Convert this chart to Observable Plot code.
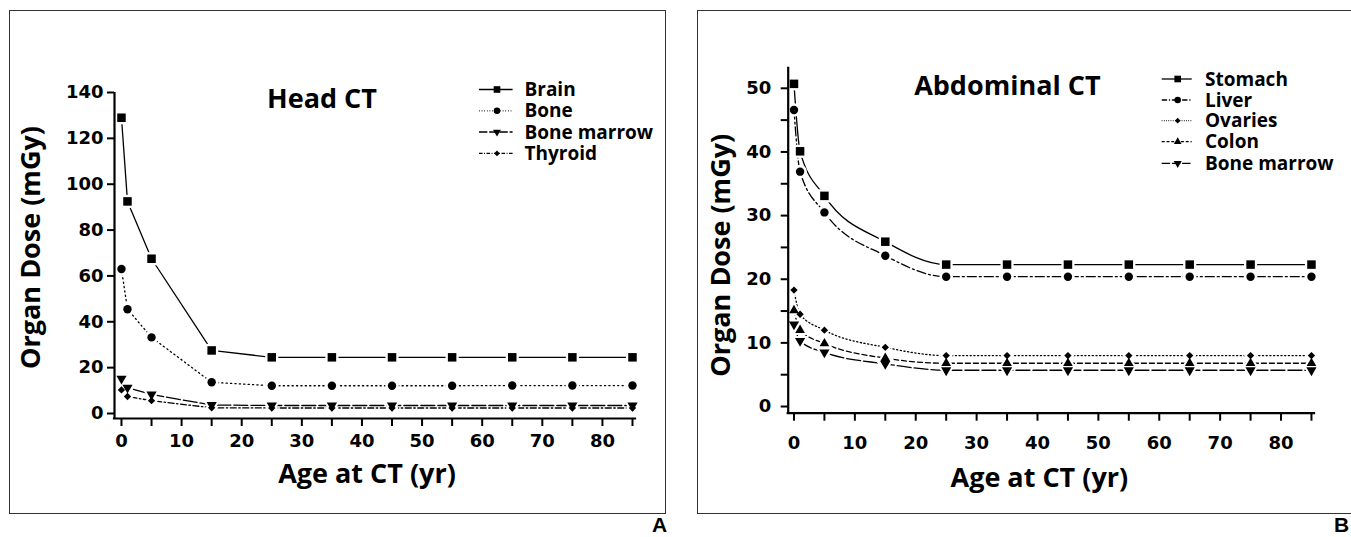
<!DOCTYPE html>
<html><head><meta charset="utf-8">
<script src="https://cdn.jsdelivr.net/npm/d3@7"></script>
<script src="https://cdn.jsdelivr.net/npm/@observablehq/plot@0.6"></script>
<style>
html,body{margin:0;padding:0;background:#fff;}
#root{position:relative;width:1351px;height:537px;overflow:hidden;background:#fff;}
.frame{position:absolute;border:1.5px solid #333;box-sizing:border-box;}
.abs{position:absolute;top:0;}
</style></head><body><div id="root"></div>
<script>
// ---------- data ----------
const ages = [0, 1, 5, 15, 25, 35, 45, 55, 65, 75, 85];

const headSeries = ["Brain", "Bone", "Bone marrow", "Thyroid"];
const headBrain      = [129, 92.5, 67.5, 27.5, 24.5, 24.5, 24.5, 24.5, 24.5, 24.5, 24.5];
const headBone       = [63, 45.5, 33.2, 13.6, 12.1, 12.1, 12.1, 12.1, 12.2, 12.2, 12.2];
const headBoneMarrow = [15.2, 11.3, 8.3, 3.7, 3.5, 3.5, 3.5, 3.5, 3.5, 3.5, 3.5];
const headThyroid    = [10.3, 7.4, 5.6, 2.5, 2.4, 2.4, 2.4, 2.4, 2.4, 2.4, 2.4];

const abdSeries = ["Stomach", "Liver", "Ovaries", "Colon", "Bone marrow"];
const abdStomach    = [50.7, 40.1, 33.1, 25.9, 22.3, 22.3, 22.3, 22.3, 22.3, 22.3, 22.3];
const abdLiver      = [46.6, 36.9, 30.5, 23.7, 20.4, 20.4, 20.4, 20.4, 20.4, 20.4, 20.4];
const abdOvaries    = [18.3, 14.5, 12.0, 9.3, 8.0, 8.0, 8.0, 8.0, 8.0, 8.0, 8.0];
const abdColon      = [15.1, 12.0, 9.9, 7.6, 6.8, 6.8, 6.8, 6.8, 6.8, 6.8, 6.8];
const abdBoneMarrow = [12.9, 10.3, 8.5, 6.7, 5.7, 5.7, 5.7, 5.7, 5.7, 5.7, 5.7];

const xTicks = [0, 5, 10, 15, 20, 25, 30, 35, 40, 45, 50, 55, 60, 65, 70, 75, 80, 85];
const xTickLabels = [0, 10, 20, 30, 40, 50, 60, 70, 80];
const headYTicks = [0, 20, 40, 60, 80, 100, 120, 140];
const abdYTicks = [0, 5, 10, 15, 20, 25, 30, 35, 40, 45, 50];
const abdYTickLabels = [0, 10, 20, 30, 40, 50];
const panelLetters = ["A", "B"];

// ---------- styling ----------
const labelFont = "'Open Sans', Lato, sans-serif";
const tickFont = "'DejaVu Sans', 'Liberation Sans', Arial, sans-serif";

const triDown = {
  draw(context, size) {
    const y = -Math.sqrt(size / (Math.sqrt(3) * 3));
    context.moveTo(0, -2 * y);
    context.lineTo(-Math.sqrt(3) * y, y);
    context.lineTo(Math.sqrt(3) * y, y);
    context.closePath();
  }
};
const symbolMap = {square: d3.symbolSquare, circle: d3.symbolCircle, triangle: d3.symbolTriangle, diamond2: d3.symbolDiamond2, triDown: triDown};

function rows(values) { return ages.map((a, i) => ({age: a, v: values[i]})); }

const headCfg = {
  left: 0, width: 680,
  margins: {marginLeft: 114, marginRight: 45, marginTop: 92, marginBottom: 119},
  xDomain: [-1.16, 85.5], yDomain: [-2.18, 140],
  yTicks: headYTicks, yTickLabels: headYTicks, yPad: 4, xPad: 8,
  curve: "linear",
  series: [
    {name: headSeries[0], values: headBrain, sym: "square", r: 4.8, dash: null},
    {name: headSeries[1], values: headBone, sym: "circle", r: 4.2, dash: "1.2,3.2"},
    {name: headSeries[2], values: headBoneMarrow, sym: "triDown", r: 3.8, dash: "14,3"},
    {name: headSeries[3], values: headThyroid, sym: "diamond2", r: 3.3, dash: "6,2.5,1.5,2.5"}
  ],
  title: "Head CT", titleDx: -53, titleDy: 7,
  yTitleDx: -83.5, yTitleDy: -8,
  xTitleDx: -8, xTitleDy: 56,
  legend: {x1: 479, x2: 512.6, xm: 497, xt: 524.5, ys: [89.5, 110.8, 132, 153.4]},
  letter: {text: panelLetters[0], x: 652}
};

const abdCfg = {
  left: 680, width: 671,
  margins: {marginLeft: 107.7, marginRight: 37, marginTop: 66.8, marginBottom: 124.3},
  xDomain: [-0.95, 85.5], yDomain: [-1.05, 53.3],
  yTicks: abdYTicks, yTickLabels: abdYTickLabels, yPad: 10, xPad: 15,
  curve: "monotone-x",
  series: [
    {name: abdSeries[0], values: abdStomach, sym: "square", r: 4.8, dash: null},
    {name: abdSeries[1], values: abdLiver, sym: "circle", r: 4.2, dash: "9,3,2,3"},
    {name: abdSeries[2], values: abdOvaries, sym: "diamond2", r: 3.3, dash: "1.2,2.5"},
    {name: abdSeries[3], values: abdColon, sym: "triangle", r: 3.6, dash: "5,3"},
    {name: abdSeries[4], values: abdBoneMarrow, sym: "triDown", r: 3.8, dash: "14,3"}
  ],
  title: "Abdominal CT", titleDx: -44, titleDy: 19,
  yTitleDx: -67, yTitleDy: 15,
  xTitleDx: -12, xTitleDy: 65,
  legend: {x1: 1161.7 - 680, x2: 1191.7 - 680, xm: 1177.7 - 680, xt: 1205 - 680, ys: [79, 100, 120.7, 141.7, 163.3]},
  letter: {text: panelLetters[1], x: 1334 - 680}
};

function plotSymbol(s) { return s === "triDown" ? triDown : s; }

function makePanel(cfg) {
  const m = cfg.margins;
  const lines = cfg.series.map(s => Plot.line(rows(s.values), {
    x: "age", y: "v", curve: cfg.curve, stroke: "black", strokeWidth: 1.3,
    strokeDasharray: s.dash || undefined
  }));
  const halos = cfg.series.map(s => Plot.dot(rows(s.values), {
    x: "age", y: "v", symbol: plotSymbol(s.sym), r: s.r + 2.6, fill: "white", stroke: "none"
  }));
  const marks = cfg.series.map(s => Plot.dot(rows(s.values), {
    x: "age", y: "v", symbol: plotSymbol(s.sym), r: s.r, fill: "black", stroke: "none"
  }));
  const xLab = new Set(xTickLabels), yLab = new Set(cfg.yTickLabels);
  const chart = Plot.plot({
    width: cfg.width, height: 537, ...m,
    style: {background: "transparent", color: "black", overflow: "visible", fontFamily: tickFont},
    x: {domain: cfg.xDomain}, y: {domain: cfg.yDomain},
    marks: [
      ...lines, ...halos, ...marks,
      Plot.ruleX([cfg.xDomain[0]], {y1: cfg.yDomain[0], y2: cfg.yDomain[1], stroke: "black", strokeWidth: 2.2}),
      Plot.ruleY([cfg.yDomain[0]], {x1: cfg.xDomain[0], x2: cfg.xDomain[1], stroke: "black", strokeWidth: 2.2, strokeLinecap: "square"}),
      Plot.axisY(cfg.yTicks, {tickSize: 7, tickPadding: cfg.yPad, strokeWidth: 2, tickFormat: d => yLab.has(d) ? String(d) : "",
        fontSize: 18, fontWeight: "bold", fontFamily: tickFont, label: null}),
      Plot.axisX(xTicks, {tickSize: 8, tickPadding: cfg.xPad, strokeWidth: 2, tickFormat: d => xLab.has(d) ? String(d) : "",
        fontSize: 18, fontWeight: "bold", fontFamily: tickFont, label: null}),
      Plot.text([cfg.title], {text: d => d, frameAnchor: "top", dx: cfg.titleDx, dy: cfg.titleDy, lineAnchor: "middle",
        fontSize: 27, fontWeight: "bold", fontFamily: labelFont}),
      Plot.text(["Organ Dose (mGy)"], {text: d => d, frameAnchor: "left", rotate: -90, dx: cfg.yTitleDx, dy: cfg.yTitleDy,
        lineAnchor: "middle", textAnchor: "middle", fontSize: 27, fontWeight: "bold", fontFamily: labelFont}),
      Plot.text(["Age at CT (yr)"], {text: d => d, frameAnchor: "bottom", dx: cfg.xTitleDx, dy: cfg.xTitleDy,
        lineAnchor: "middle", fontSize: 27, fontWeight: "bold", fontFamily: labelFont})
    ]
  });
  chart.classList.add("abs");
  chart.style.left = cfg.left + "px";

  const svg = d3.select(chart);
  // legend
  const lg = svg.append("g").attr("class", "legend").attr("text-anchor", "start");
  const L = cfg.legend;
  cfg.series.forEach((s, i) => {
    const y = L.ys[i];
    lg.append("line").attr("x1", L.x1).attr("x2", L.x2).attr("y1", y).attr("y2", y)
      .attr("stroke", "black").attr("stroke-width", 1.3)
      .attr("stroke-dasharray", s.dash ? s.dash.split(",").map(v => +v * 0.6).join(",") : null);
    const area = Math.PI * (s.r * 0.78) ** 2;
    lg.append("path").attr("transform", `translate(${L.xm},${y})`)
      .attr("d", d3.symbol(symbolMap[s.sym], area)()).attr("fill", "black");
    lg.append("text").attr("x", L.xt).attr("y", y).attr("dy", "0.35em")
      .attr("text-anchor", "start")
      .attr("font-family", labelFont).attr("font-weight", "bold").attr("font-size", 19)
      .attr("fill", "black").text(s.name);
  });
  // panel letter
  svg.append("text").attr("x", cfg.letter.x).attr("y", 531.5).attr("text-anchor", "start")
    .attr("font-family", "'Liberation Sans', Arial, sans-serif").attr("font-weight", "bold")
    .attr("font-size", 21).attr("fill", "black").text(cfg.letter.text);
  return chart;
}

const root = document.getElementById("root");
function frame(l, t, w, h) {
  const d = document.createElement("div");
  d.className = "frame";
  Object.assign(d.style, {left: l + "px", top: t + "px", width: w + "px", height: h + "px"});
  root.appendChild(d);
}
frame(9, 10, 657, 504);
frame(697, 10, 700, 504);
root.appendChild(makePanel(headCfg));
root.appendChild(makePanel(abdCfg));
</script>
</body></html>
